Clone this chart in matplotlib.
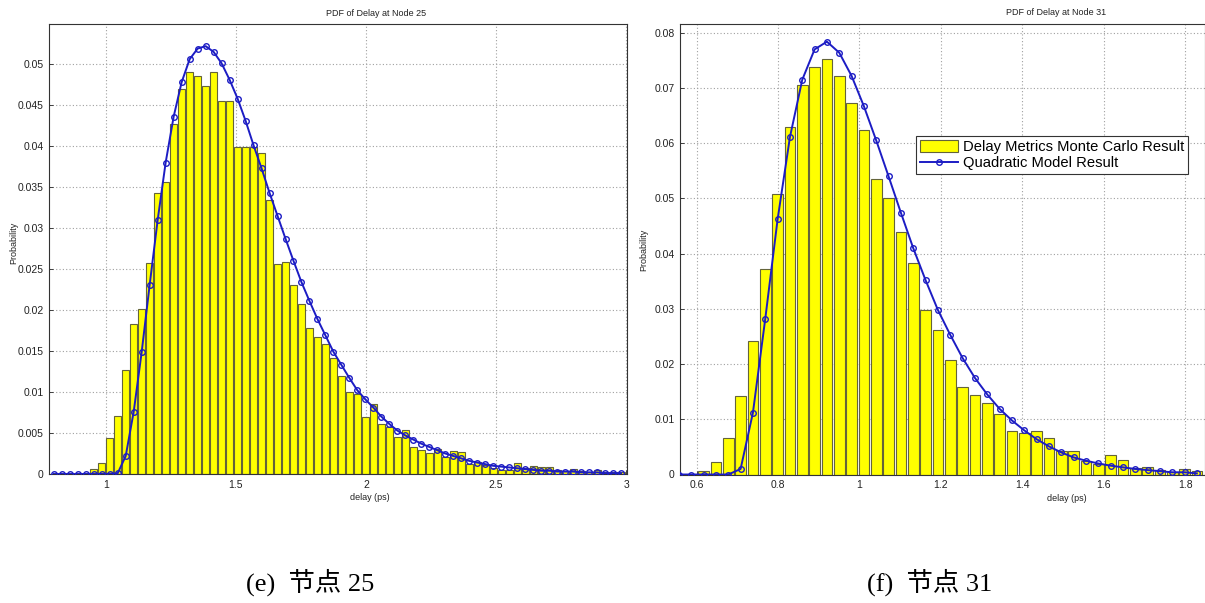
import numpy as np
import matplotlib
matplotlib.use("Agg")
import matplotlib.pyplot as plt
from matplotlib.ticker import FuncFormatter
from matplotlib.patches import Patch
from matplotlib.lines import Line2D

plt.rcParams['font.family'] = ['Liberation Sans', 'Noto Sans CJK SC', 'DejaVu Sans']

# ---------------- data ----------------
# Node 25: bins centred from left_first_center, spacing left_bin_width
left_first_center = 0.8005
left_bin_width = 0.0307
left_bars = [0, 0, 0, 0, 0,
             0.0006, 0.0014, 0.0044, 0.0071, 0.0127, 0.0183, 0.0201, 0.0257,
             0.0343, 0.0356, 0.0427, 0.0470, 0.0491, 0.0485, 0.0473, 0.0491,
             0.0455, 0.0455, 0.0399, 0.0399, 0.0399, 0.0392, 0.0334, 0.0256,
             0.0259, 0.0230, 0.0207, 0.0178, 0.0167, 0.0159, 0.0142, 0.0120,
             0.0100, 0.0098, 0.0070, 0.0086, 0.0061, 0.0057, 0.0045, 0.0054,
             0.0033, 0.0029, 0.0026, 0.0030, 0.0021, 0.0028, 0.0027, 0.0012,
             0.0015, 0.0011, 0.0007, 0.0005, 0.0005, 0.0014, 0.0007, 0.0010,
             0.0009, 0.0008, 0.0005, 0.0004, 0.0006, 0.0004, 0.0003, 0.0005,
             0.0003, 0.0002, 0.0003]
left_model = [0, 0, 0, 0, 0, 0, 0, 0,
              0.0001, 0.0022, 0.0076, 0.0149, 0.0231, 0.0310, 0.0380, 0.0436,
              0.0478, 0.0506, 0.0519, 0.0522, 0.0515, 0.0501, 0.0481, 0.0458,
              0.0431, 0.0401, 0.0373, 0.0343, 0.0315, 0.0287, 0.0260, 0.0234,
              0.0211, 0.0189, 0.0169, 0.0149, 0.0133, 0.0117, 0.0102, 0.0091,
              0.0081, 0.0070, 0.0061, 0.0053, 0.0047, 0.0042, 0.0037, 0.0033,
              0.0029, 0.0025, 0.0022, 0.0019, 0.0016, 0.0014, 0.0012, 0.0010,
              0.0009, 0.0008, 0.0007, 0.0006, 0.0005, 0.0004, 0.0004, 0.0003,
              0.0003, 0.0003, 0.0002, 0.0002, 0.0002, 0.0001, 0.0001, 0.0001]
left_xticks = [1, 1.5, 2, 2.5, 3]
left_xticklabels = ['1', '1.5', '2', '2.5', '3']
left_yticks = [0, 0.005, 0.01, 0.015, 0.02, 0.025, 0.03, 0.035, 0.04, 0.045, 0.05]

# Node 31
right_first_center = 0.5564
right_bin_width = 0.0303
right_bars = [0, 0,
              0.0006, 0.0023, 0.0066, 0.0143, 0.0242, 0.0373, 0.0508, 0.0630,
              0.0706, 0.0739, 0.0752, 0.0722, 0.0673, 0.0624, 0.0536, 0.0500,
              0.0439, 0.0383, 0.0298, 0.0262, 0.0207, 0.0158, 0.0144, 0.0129,
              0.0109, 0.0078, 0.0075, 0.0078, 0.0066, 0.0043, 0.0042, 0.0025,
              0.0019, 0.0035, 0.0026, 0.0011, 0.0014, 0.0008, 0.0005, 0.0010,
              0.0007]
right_model = [0, 0, 0, 0, 0,
               0.0010, 0.0112, 0.0282, 0.0462, 0.0611, 0.0715, 0.0770, 0.0784,
               0.0764, 0.0722, 0.0667, 0.0605, 0.0540, 0.0474, 0.0410, 0.0352,
               0.0298, 0.0253, 0.0211, 0.0175, 0.0145, 0.0119, 0.0098, 0.0080,
               0.0064, 0.0051, 0.0040, 0.0031, 0.0025, 0.0020, 0.0016, 0.0013,
               0.0010, 0.0008, 0.0006, 0.0004, 0.0004, 0.0002]
right_xticks = [0.6, 0.8, 1.0, 1.2, 1.4, 1.6, 1.8]
right_xticklabels = ['0.6', '0.8', '1', '1.2', '1.4', '1.6', '1.8']
right_yticks = [0, 0.01, 0.02, 0.03, 0.04, 0.05, 0.06, 0.07, 0.08]

titles = ['PDF of Delay at Node 25', 'PDF of Delay at Node 31']
captions = ['(e)  节点 25', '(f)  节点 31']
legend_labels = ['Delay Metrics Monte Carlo Result', 'Quadratic Model Result']

BAR_FACE = '#ffff00'
BAR_EDGE = '#64643a'
LINE_COL = '#1c1cc4'

W, H = 1205, 603
fig = plt.figure(figsize=(W / 100, H / 100), dpi=100)

ax1 = fig.add_axes([49 / W, (H - 474) / H, 578 / W, 450 / H])
ax2 = fig.add_axes([680 / W, (H - 474.5) / H, 525 / W, 450.5 / H])


def style(ax, xlim, ylim, xticks, xlabels, yticks):
    ax.set_xlim(*xlim)
    ax.set_ylim(*ylim)
    ax.set_xticks(xticks)
    ax.set_xticklabels(xlabels)
    ax.set_yticks(yticks)
    ax.yaxis.set_major_formatter(FuncFormatter(lambda v, p: f"{round(v, 4):g}"))
    ax.set_axisbelow(True)
    ax.grid(True, linestyle=(0, (1, 2)), color='#a0a0a0', linewidth=0.8)
    ax.tick_params(direction='in', length=3, width=0.6, labelsize=7.5,
                   colors='#222222', pad=4)
    for s in ax.spines.values():
        s.set_linewidth(0.8)
        s.set_color('#333333')


def draw(ax, first, width, bars, model):
    xb = first + width * np.arange(len(bars))
    ax.bar(xb, bars, width=0.86 * width, color=BAR_FACE, edgecolor=BAR_EDGE,
           linewidth=0.8, zorder=2)
    xm = first + width * np.arange(len(model))
    ax.plot(xm, model, '-', color=LINE_COL, lw=1.4, marker='o', ms=4.0,
            mfc='none', mec=LINE_COL, mew=1.0, zorder=3, clip_on=True)


draw(ax1, left_first_center, left_bin_width, left_bars, left_model)
style(ax1, (0.782, 3.003), (0, 0.0549), left_xticks, left_xticklabels,
      left_yticks)

draw(ax2, right_first_center, right_bin_width, right_bars, right_model)
style(ax2, (0.559, 1.849), (0, 0.0816), right_xticks, right_xticklabels,
      right_yticks)

# titles / labels (positions as in reference)
ax1.text(0.566, 1 + 11 / 450, titles[0], transform=ax1.transAxes,
         ha='center', va='center', fontsize=6.5, color='#222222')
ax2.text(0.716, 1 + 11 / 450, titles[1], transform=ax2.transAxes,
         ha='center', va='center', fontsize=6.5, color='#222222')
ax1.text(0.555, -24 / 450, 'delay (ps)', transform=ax1.transAxes,
         ha='center', va='center', fontsize=6.5, color='#222222')
ax2.text(0.737, -24 / 450, 'delay (ps)', transform=ax2.transAxes,
         ha='center', va='center', fontsize=6.5, color='#222222')
ax1.text(-0.0606, 0.513, 'Probability', transform=ax1.transAxes, rotation=90,
         ha='center', va='center', fontsize=6.5, color='#222222')
ax2.text(-0.069, 0.498, 'Probability', transform=ax2.transAxes, rotation=90,
         ha='center', va='center', fontsize=6.5, color='#222222')

handles = [Patch(facecolor=BAR_FACE, edgecolor=BAR_EDGE, linewidth=0.8),
           Line2D([], [], color=LINE_COL, lw=1.4, marker='o', ms=4.0,
                  mfc='none', mec=LINE_COL, mew=1.0)]
leg = ax2.legend(handles, legend_labels, loc='upper left',
                 bbox_to_anchor=(0.4495, 0.751), borderaxespad=0,
                 fancybox=False, edgecolor='#333333', framealpha=1,
                 fontsize=10.6, handlelength=2.6, handleheight=0.9,
                 borderpad=0.25, labelspacing=0.15, handletextpad=0.35)
leg.get_frame().set_linewidth(0.8)

cap_font = ['Liberation Serif', 'Noto Sans CJK SC']
fig.text(310 / W, 1 - 582 / H, captions[0], ha='center', va='center',
         fontsize=19, family=cap_font)
fig.text(930 / W, 1 - 582 / H, captions[1], ha='center', va='center',
         fontsize=19, family=cap_font)

fig.savefig('out.png', dpi=100)
